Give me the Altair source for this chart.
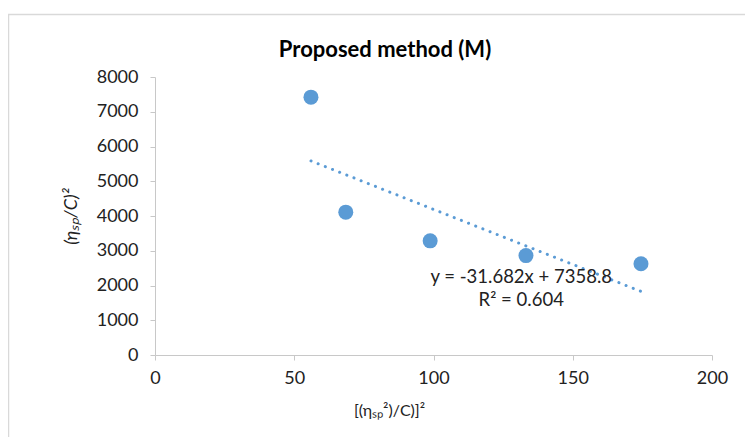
import altair as alt
import pandas as pd

# data
x_vals = [56, 68.5, 98.8, 133.2, 174.5]
y_vals = [7420, 4110, 3285, 2860, 2625]

# trendline equation shown on the chart
slope = -31.682
intercept = 7358.8
eq_text = ["y = -31.682x + 7358.8", "R² = 0.604"]
eq_x = [131.5, 131.5]
eq_y = [2250, 1590]

x_ticks = [0, 50, 100, 150, 200]
y_ticks = [0, 1000, 2000, 3000, 4000, 5000, 6000, 7000, 8000]
title_text = "Proposed method (M)"

BLUE = "#5B9BD5"
FONT = "Lato"
AXIS_GRAY = "#c8c8c8"
TXT = "#222222"

pts = pd.DataFrame({"x": x_vals, "y": y_vals})
xmin, xmax = min(x_vals), max(x_vals)
trend = pd.DataFrame({"x": [xmin, xmax],
                      "y": [intercept + slope * xmin, intercept + slope * xmax]})
eq = pd.DataFrame({"x": eq_x, "y": eq_y, "t": eq_text})

xscale = alt.Scale(domain=[0, 200], nice=False)
yscale = alt.Scale(domain=[0, 8000], nice=False)

xaxis = alt.Axis(values=x_ticks, grid=False, title="[(ηₛₚ²)/C)]²", format="d",
                 domainColor=AXIS_GRAY, tickColor=AXIS_GRAY, tickSize=5,
                 labelFont=FONT, labelFontSize=18, labelColor=TXT, labelPadding=9,
                 labelOverlap=False,
                 titleFont=FONT, titleFontSize=16, titleFontWeight="normal",
                 titleColor=TXT, titleX=234, titleY=55, titleBaseline="middle",
                 labelFlush=False)
yaxis = alt.Axis(values=y_ticks, grid=False, title="(ηₛₚ/C)²", format="d",
                 domainColor=AXIS_GRAY, tickColor=AXIS_GRAY, tickSize=5,
                 labelFont=FONT, labelFontSize=18, labelColor=TXT, labelPadding=12,
                 labelOverlap=False,
                 titleFont=FONT, titleFontSize=18, titleFontWeight="normal",
                 titleFontStyle="italic",
                 titleColor=TXT, titleX=-84, titleBaseline="middle",
                 labelFlush=False)


def X():
    return alt.X("x:Q", scale=xscale, axis=xaxis)


def Y():
    return alt.Y("y:Q", scale=yscale, axis=yaxis)


border = alt.Chart(pd.DataFrame({"a": [0]})).mark_rect(
    fill=None, stroke="#d9d9d9", strokeWidth=1.5
).encode(x=alt.value(-146.5), x2=alt.value(900), y=alt.value(-62.5), y2=alt.value(600))

title = alt.Chart(pd.DataFrame({"t": [title_text]})).mark_text(
    font=FONT, fontSize=22, fontWeight="bold", color="#000000",
    align="center", baseline="middle"
).encode(x=alt.value(230), y=alt.value(-27), text="t:N")

points = alt.Chart(pts).mark_point(filled=True, size=225, opacity=1, color=BLUE).encode(
    x=X(), y=Y())

line = alt.Chart(trend).mark_line(
    color=BLUE, strokeWidth=3, strokeDash=[0.1, 7.6], strokeCap="round"
).encode(x=X(), y=Y())

labels = alt.Chart(eq).mark_text(font=FONT, fontSize=18.5, color=TXT, align="center",
                                 baseline="middle").encode(x=X(), y=Y(), text="t:N")

chart = alt.layer(border, title, line, points, labels).properties(
    width=557, height=278,
    autosize=alt.AutoSizeParams(type="none"),
    padding={"left": 147, "top": 69, "right": 33, "bottom": 82},
).configure_view(stroke=None)

chart.save("out.html", embed_options={"renderer": "svg", "actions": False})
